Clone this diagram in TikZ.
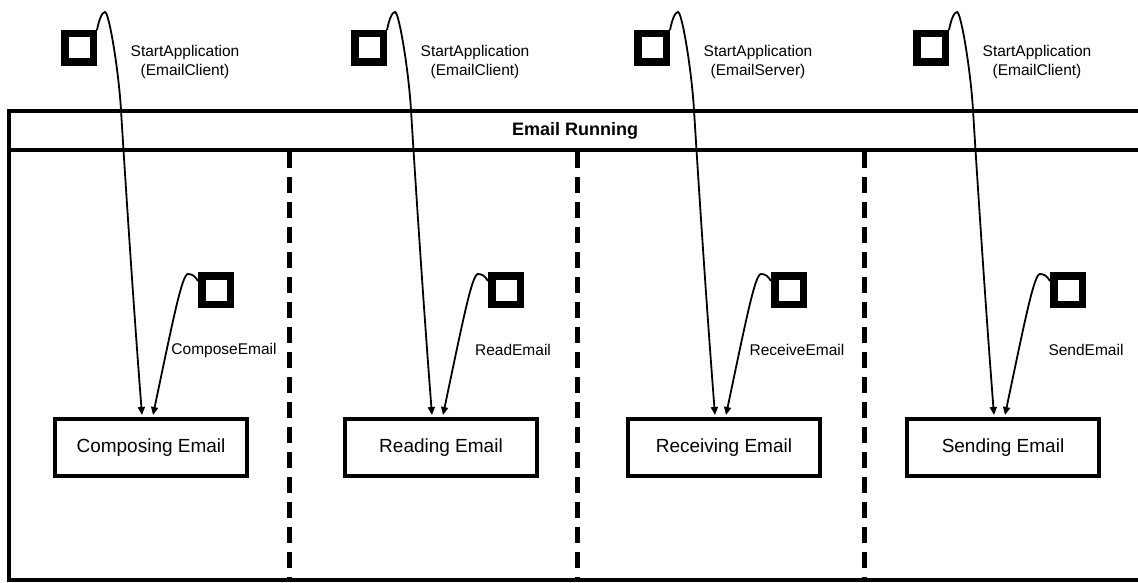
\documentclass[tikz,border=0pt]{standalone}
\usepackage{fontspec}
\setmainfont{Liberation Sans}
\usetikzlibrary{arrows.meta,calc}
\newcommand\emailcol[6]{%
  \begin{scope}[xshift=#1pt]
    \node[initsq] (s#2) at (18,48) {};
    \node[initsq] (q#2) at (155,290) {};
    \node[statebox] (b#2) at (90,447.5) {#6};
    \node[lbl] (l#2) at (124,62) {StartApplication\\(#3)};
    \node[lbl] (m#2) at (#5,350) {#4};
    \draw[trans] (s#2.north east) .. controls (38,20) and (41,12) .. (44,12)
      .. controls (48,12) and (57.6,70) .. (60,110)
      .. controls (62.4,150) and (72,300) .. ($(b#2.north)+(-9,-2)$);
    \draw[trans] (q#2.west |- 0,281) .. controls (134,276) and (131,274) .. (127,274)
      .. controls (121,274) and (112,320) .. ($(b#2.north)+(2,-2)$);
  \end{scope}}
\begin{document}
\begin{tikzpicture}[x=1pt,y=-1pt,
  initsq/.style={draw, line width=7.5pt, minimum size=28.5pt, inner sep=0pt},
  statebox/.style={draw, line width=4pt, minimum width=192pt, minimum height=57pt, inner sep=0pt, font=\fontsize{19}{22}\selectfont},
  trans/.style={line width=1.8pt, -{Triangle[length=8pt,width=7pt]}},
  lbl/.style={font=\fontsize{15.5}{19}\selectfont, align=center, inner sep=0pt},
  hdr/.style={font=\bfseries\fontsize{18}{22}\selectfont, inner sep=0pt},
  frame/.style={line width=4pt},
  divider/.style={line width=5pt, dash pattern=on 16pt off 9pt}
]
\useasboundingbox (0,0) rectangle (1138,583);
\clip (0,0) rectangle (1138,583);
\draw[frame] (9,111) rectangle (1160,580);
\draw[frame] (9,150) -- (1160,150);
\node[hdr] (header) at (575,131) {Email Running};
\foreach \xx in {289,577,864} \draw[divider] (\xx,152) -- (\xx,578);
\emailcol{61}{1}{EmailClient}{ComposeEmail}{163}{Composing Email}
\emailcol{351}{2}{EmailClient}{ReadEmail}{162}{Reading Email}
\emailcol{634}{3}{EmailServer}{ReceiveEmail}{163}{Receiving Email}
\emailcol{913}{4}{EmailClient}{SendEmail}{173}{Sending Email}
\end{tikzpicture}
\end{document}
